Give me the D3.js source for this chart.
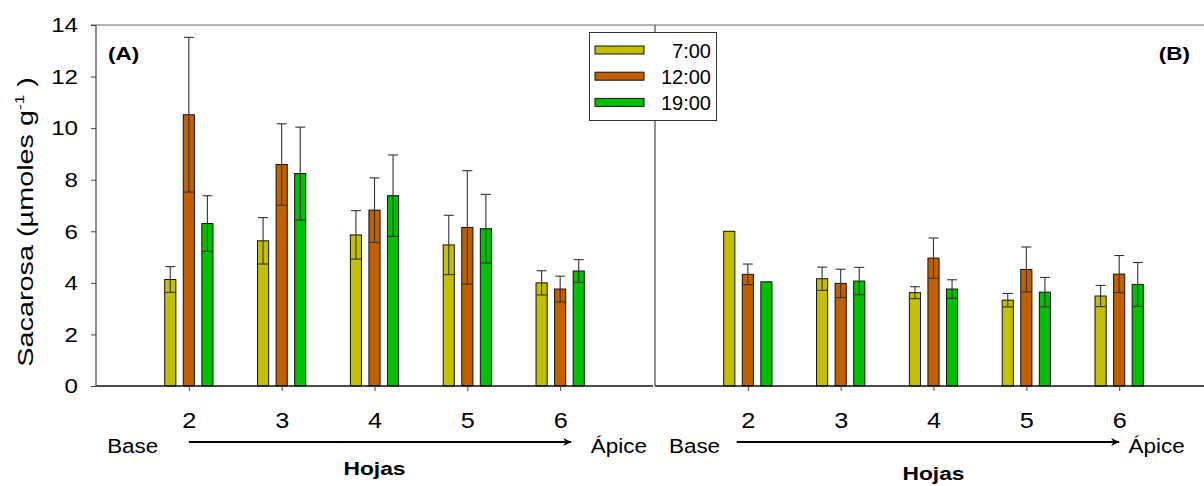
<!DOCTYPE html>
<html>
<head>
<meta charset="utf-8">
<script src="https://cdn.jsdelivr.net/npm/d3@7"></script>
<style>
  html, body { margin: 0; padding: 0; background: #fff; }
  svg { display: block; font-family: "Liberation Sans", Arial, sans-serif; }
</style>
</head>
<body>
<svg id="chart" width="1204" height="486"></svg>
<script>
// Leaf position along the stem (base -> apex)
const leaves = [2, 3, 4, 5, 6];
const times = ["7:00", "12:00", "19:00"];
const colors = ["#c2c000", "#c26000", "#00c000"];

// Panel A: sucrose (µmol g-1), mean and error per sampling time
const aMean700  = [4.13, 5.63, 5.86, 5.47, 4.00];
const aErr700   = [0.50, 0.90, 0.94, 1.15, 0.47];
const aMean1200 = [10.52, 8.59, 6.82, 6.15, 3.76];
const aErr1200  = [3.00, 1.58, 1.25, 2.20, 0.50];
const aMean1900 = [6.30, 8.24, 7.38, 6.10, 4.46];
const aErr1900  = [1.08, 1.80, 1.58, 1.33, 0.44];

// Panel B
const bMean700  = [6.00, 4.16, 3.62, 3.33, 3.49];
const bErr700   = [null, 0.45, 0.23, 0.26, 0.41];
const bMean1200 = [4.33, 3.98, 4.96, 4.52, 4.34];
const bErr1200  = [0.40, 0.55, 0.78, 0.87, 0.72];
const bMean1900 = [4.04, 4.07, 3.76, 3.64, 3.94];
const bErr1900  = [null, 0.53, 0.36, 0.57, 0.85];

const yTicks = [0, 2, 4, 6, 8, 10, 12, 14];

const svg = d3.select("#chart");
const plotTop = 25, plotBottom = 386;
const y = d3.scaleLinear().domain([0, 14]).range([plotBottom, plotTop]);

// text drawn with a slight horizontal widening
function label(parent, str, x, yPos, size, opts = {}) {
  const sx = opts.sx || 1;
  const g = parent.append("g").attr("transform", `translate(${x},${yPos}) scale(${sx},1)`);
  return g.append("text")
    .attr("text-anchor", opts.anchor || "start")
    .attr("font-size", size)
    .attr("font-weight", opts.bold ? "bold" : "normal")
    .attr("fill", "#000")
    .text(str);
}

const panels = [
  { letter: "(A)", x0: 96, x1: 653, letterX: 108, letterAnchor: "start",
    baseAt: 1.12, arrowFrom: 2.0, arrowTo: 6.12, apiceAt: 6.33, hojasY: 475,
    means: [aMean700, aMean1200, aMean1900], errs: [aErr700, aErr1200, aErr1900] },
  { letter: "(B)", x0: 655, x1: 1212, letterX: 1190, letterAnchor: "end",
    baseAt: 1.15, arrowFrom: 1.88, arrowTo: 6.0, apiceAt: 6.1, hojasY: 480,
    means: [bMean700, bMean1200, bMean1900], errs: [bErr700, bErr1200, bErr1900] }
];

const offsets = [-0.2, 0, 0.2];
const barW = 0.12;

svg.append("defs").append("marker")
  .attr("id", "arrow").attr("viewBox", "0 0 10 10")
  .attr("refX", 10).attr("refY", 5)
  .attr("markerWidth", 11).attr("markerHeight", 8)
  .attr("markerUnits", "userSpaceOnUse")
  .attr("orient", "auto")
  .append("path").attr("d", "M0,0 L10,5 L0,10 L3,5 Z").attr("fill", "#000");

// top frame line across both panels
svg.append("line").attr("x1", 91).attr("x2", 1204).attr("y1", plotTop).attr("y2", plotTop)
  .attr("stroke", "#666").attr("stroke-width", 1.2);

panels.forEach((p) => {
  const x = d3.scaleLinear().domain([1, 7]).range([p.x0, p.x1]);
  const g = svg.append("g");

  // bars
  p.means.forEach((vals, si) => {
    g.selectAll(null).data(leaves.map((l, i) => ({ l, v: vals[i] })))
      .join("rect")
      .attr("x", d => x(d.l + offsets[si] - barW / 2))
      .attr("width", x(1 + barW) - x(1))
      .attr("y", d => y(d.v))
      .attr("height", d => y(0) - y(d.v))
      .attr("fill", colors[si])
      .attr("stroke", "#111").attr("stroke-width", 1);
  });

  // error bars
  p.means.forEach((vals, si) => {
    const data = leaves.map((l, i) => ({ l, v: vals[i], e: p.errs[si][i] })).filter(d => d.e != null);
    const eg = g.selectAll(null).data(data).join("g")
      .attr("stroke", "#333").attr("stroke-width", 1.1);
    eg.append("line")
      .attr("x1", d => x(d.l + offsets[si])).attr("x2", d => x(d.l + offsets[si]))
      .attr("y1", d => y(d.v - d.e)).attr("y2", d => y(d.v + d.e));
    [1, -1].forEach(sgn => {
      eg.append("line")
        .attr("x1", d => x(d.l + offsets[si]) - 5).attr("x2", d => x(d.l + offsets[si]) + 5)
        .attr("y1", d => y(d.v + sgn * d.e)).attr("y2", d => y(d.v + sgn * d.e));
    });
  });

  // x axis
  const xAxis = d3.axisBottom(x).tickValues(leaves).tickSize(5).tickFormat(d3.format("d"));
  const xg = g.append("g").attr("transform", `translate(0,${plotBottom})`).call(xAxis);
  xg.select(".domain").attr("stroke", "#111").attr("stroke-width", 1.3).attr("d", `M${p.x0},0H${p.x1}`);
  xg.selectAll(".tick line").attr("stroke", "#444");
  xg.selectAll(".tick text").attr("font-size", 22).attr("fill", "#000")
    .attr("font-family", "Liberation Sans, Arial, sans-serif")
    .attr("y", 42).attr("dy", 0).attr("transform", "scale(1.15,1)");

  // y axis line
  g.append("line").attr("x1", p.x0).attr("x2", p.x0).attr("y1", plotTop).attr("y2", plotBottom)
    .attr("stroke", "#555").attr("stroke-width", 1.3);

  // panel letter
  label(g, p.letter, p.letterX, 60, 18, { bold: true, sx: 1.25, anchor: p.letterAnchor });

  // Base -> Ápice arrow and axis title
  const arrY = 442;
  label(g, "Base", x(p.baseAt), 453, 21, { sx: 1.07 });
  g.append("line").attr("x1", x(p.arrowFrom)).attr("x2", x(p.arrowTo)).attr("y1", arrY).attr("y2", arrY)
    .attr("stroke", "#000").attr("stroke-width", 2).attr("marker-end", "url(#arrow)");
  label(g, "Ápice", x(p.apiceAt), 453, 21, { sx: 1.07 });
  label(g, "Hojas", x(4), p.hojasY, 19, { bold: true, sx: 1.2, anchor: "middle" });
});

// left y axis with labels
const yAxis = d3.axisLeft(y).tickValues(yTicks).tickSize(5);
const yg = svg.append("g").attr("transform", "translate(96,0)").call(yAxis);
yg.select(".domain").remove();
yg.selectAll(".tick line").attr("stroke", "#444");
yg.selectAll(".tick text").attr("font-size", 21).attr("fill", "#000")
  .attr("font-family", "Liberation Sans, Arial, sans-serif")
  .attr("x", -18 / 1.15).attr("transform", "scale(1.15,1)");

// y axis title
const yt = svg.append("g").attr("transform", "translate(33,222) rotate(-90) scale(1.31,1)")
  .append("text").attr("text-anchor", "middle").attr("font-size", 22);
yt.append("tspan").text("Sacarosa (µmoles g");
yt.append("tspan").attr("dy", -9).attr("font-size", 13).text("-1");
yt.append("tspan").attr("dy", 9).text(" )");

// legend
const lg = svg.append("g");
lg.append("rect").attr("x", 589.5).attr("y", 32.5).attr("width", 127).attr("height", 88)
  .attr("fill", "#fff").attr("stroke", "#333").attr("stroke-width", 1);
times.forEach((t, i) => {
  const cy = 50 + i * 26.2;
  lg.append("rect").attr("x", 595).attr("y", cy - 4).attr("width", 49).attr("height", 8)
    .attr("fill", colors[i]).attr("stroke", "#111").attr("stroke-width", 1);
  lg.append("text").attr("x", 711).attr("y", cy + 7.5).attr("text-anchor", "end")
    .attr("font-size", 20).text(t);
});
</script>
</body>
</html>
